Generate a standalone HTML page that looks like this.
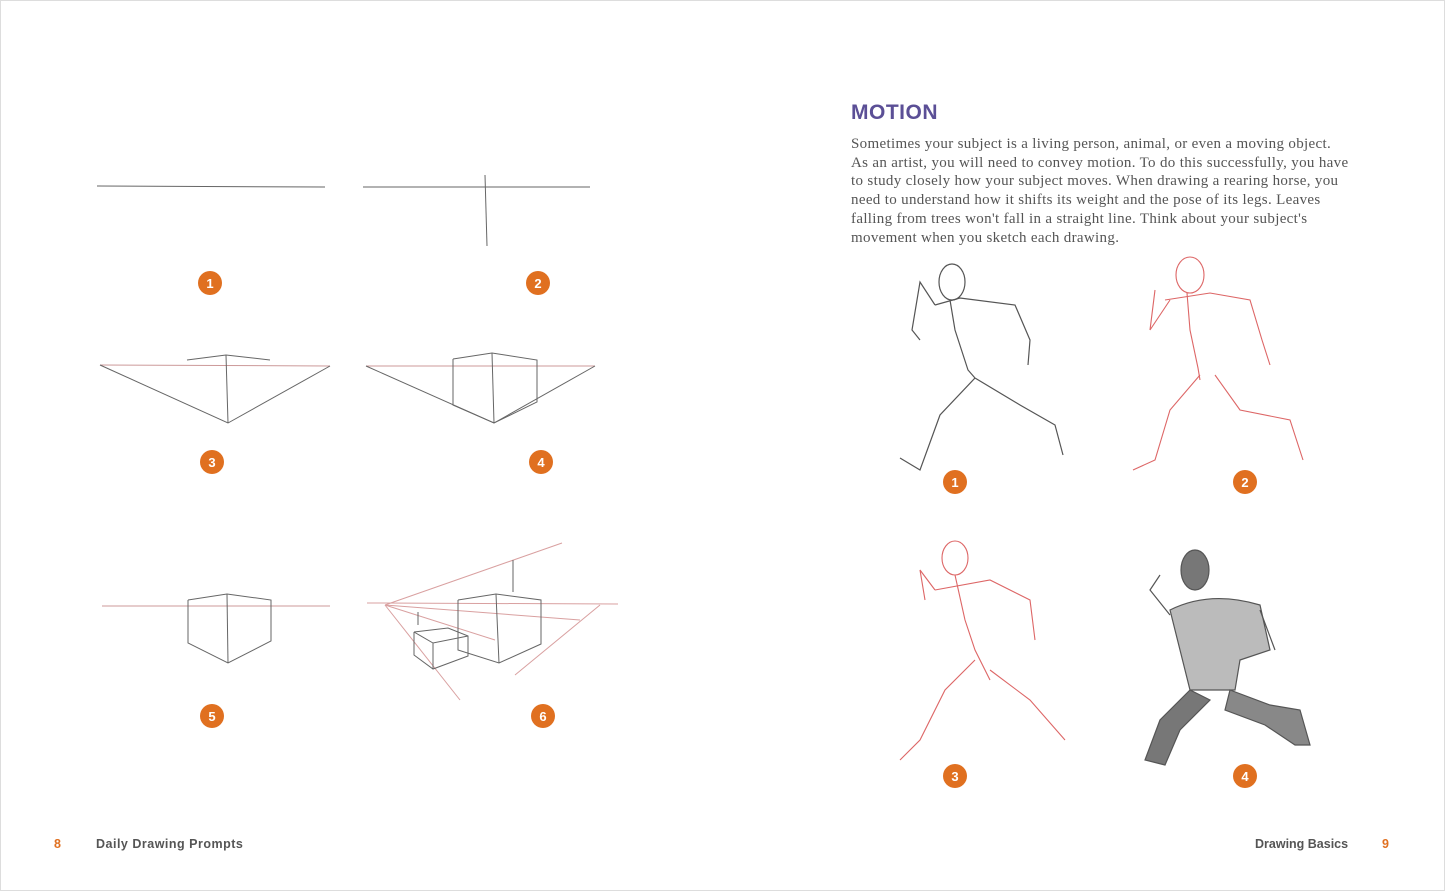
<!DOCTYPE html>
<html><head><meta charset="utf-8"><style>
body{margin:0;width:1445px;height:891px;background:#fff;overflow:hidden;position:relative;font-family:"Liberation Sans",sans-serif}
.t{position:absolute;left:851px;top:135px;white-space:nowrap;font-family:"Liberation Serif",serif;font-size:15px;letter-spacing:0.33px;line-height:18.7px;color:#555}
h1{position:absolute;left:851px;top:101px;margin:0;font-size:21px;font-weight:bold;color:#5b4f96;letter-spacing:0.5px}
.f{position:absolute;top:837px;font-size:12.5px;font-weight:bold;color:#555;letter-spacing:0.5px}
.n{color:#e07020}
svg{position:absolute;left:0;top:0}
</style></head><body>
<svg width="1445" height="891" viewBox="0 0 1445 891">
<rect x="0.5" y="0.5" width="1444" height="890" fill="none" stroke="#ddd"/>
<g fill="none" stroke="#666" stroke-width="1">
<line x1="97" y1="186" x2="325" y2="187"/>
<line x1="363" y1="187" x2="590" y2="187"/><line x1="485" y1="175" x2="487" y2="246"/>
<line x1="100" y1="365" x2="330" y2="366" stroke="#c99"/>
<polyline points="100,365 228,423 330,366"/><line x1="226" y1="355" x2="228" y2="423"/>
<polyline points="187,360 226,355 270,360"/>
<line x1="366" y1="366" x2="595" y2="366" stroke="#c99"/>
<polyline points="366,366 494,423 595,366"/><polyline points="453,359 453,405 494,423 537,402 537,360 492,353 453,359"/><line x1="492" y1="353" x2="494" y2="423"/>
<line x1="102" y1="606" x2="330" y2="606" stroke="#c99"/>
<polyline points="188,600 188,643 228,663 271,641 271,600 227,594 188,600"/><line x1="227" y1="594" x2="228" y2="663"/>
<g stroke="#d9a0a0"><line x1="367" y1="603" x2="618" y2="604"/><line x1="385" y1="605" x2="562" y2="543"/><line x1="385" y1="605" x2="460" y2="700"/><line x1="600" y1="605" x2="515" y2="675"/><line x1="385" y1="605" x2="580" y2="620"/><line x1="385" y1="605" x2="495" y2="640"/></g>
<polyline points="513,560 513,592 M513,560 562,543 600,605 562,630 562,543"/>
<polyline points="458,600 458,650 499,663 541,644 541,600 496,594 458,600"/><line x1="496" y1="594" x2="499" y2="663"/>
<polyline points="414,632 414,655 433,669 468,656 468,636 448,628 414,632"/><line x1="433" y1="643" x2="433" y2="669"/><polyline points="414,632 433,643 468,636"/>
<polyline points="418,612 418,625 M418,612 442,610 453,615"/>
</g>
<g fill="none" stroke="#555" stroke-width="1.2">
<ellipse cx="952" cy="282" rx="13" ry="18"/>
<polyline points="950,300 955,330 968,370 975,378"/><polyline points="935,305 960,298 1015,305 1030,340 1028,365"/><polyline points="935,305 920,282 912,330 920,340"/>
<polyline points="975,378 940,415 920,470 900,458"/><polyline points="975,378 1020,405 1055,425 1063,455"/>
</g>
<g fill="none" stroke="#d66" stroke-width="1.1">
<ellipse cx="1190" cy="275" rx="14" ry="18"/>
<polyline points="1187,293 1190,330 1198,368 1200,380"/><polyline points="1165,300 1210,293 1250,300 1262,340 1270,365"/><polyline points="1170,300 1150,330 1155,290"/>
<polyline points="1200,375 1170,410 1155,460 1133,470"/><polyline points="1215,375 1240,410 1290,420 1303,460"/>
<ellipse cx="955" cy="558" rx="13" ry="17"/>
<polyline points="955,575 965,620 975,650 990,680"/><polyline points="935,590 990,580 1030,600 1035,640"/><polyline points="935,590 920,570 925,600"/>
<polyline points="975,660 945,690 920,740 900,760"/><polyline points="990,670 1030,700 1065,740"/>
</g>
<g fill="none" stroke="#555" stroke-width="1.2">
<ellipse cx="1195" cy="570" rx="14" ry="20" fill="#777"/>
<path d="M1170 610 Q1210 590 1260 605 L1270 650 L1240 660 L1235 690 L1190 690 L1180 650Z" fill="#bbb"/>
<path d="M1190 690 L1160 720 L1145 760 L1165 765 L1180 730 L1210 700Z" fill="#777"/>
<path d="M1230 690 L1270 705 L1300 710 L1310 745 L1295 745 L1265 725 L1225 710Z" fill="#888"/>
<path d="M1170 615 L1150 590 L1160 575 M1260 610 L1275 650"/>
</g>
<g fill="#e07020"><circle cx="210" cy="283" r="12"/><circle cx="538" cy="283" r="12"/><circle cx="212" cy="462" r="12"/><circle cx="541" cy="462" r="12"/><circle cx="212" cy="716" r="12"/><circle cx="543" cy="716" r="12"/><circle cx="955" cy="482" r="12"/><circle cx="1245" cy="482" r="12"/><circle cx="955" cy="776" r="12"/><circle cx="1245" cy="776" r="12"/></g>
<g fill="#fff" font-family="Liberation Sans" font-weight="bold" font-size="13" text-anchor="middle"><text x="210" y="288">1</text><text x="538" y="288">2</text><text x="212" y="467">3</text><text x="541" y="467">4</text><text x="212" y="721">5</text><text x="543" y="721">6</text><text x="955" y="487">1</text><text x="1245" y="487">2</text><text x="955" y="781">3</text><text x="1245" y="781">4</text></g>
</svg>
<h1>MOTION</h1>
<div class="t">Sometimes your subject is a living person, animal, or even a moving object.<br>As an artist, you will need to convey motion. To do this successfully, you have<br>to study closely how your subject moves. When drawing a rearing horse, you<br>need to understand how it shifts its weight and the pose of its legs. Leaves<br>falling from trees won't fall in a straight line. Think about your subject's<br>movement when you sketch each drawing.</div>
<div class="f n" style="left:54px">8</div>
<div class="f" style="left:96px">Daily Drawing Prompts</div>
<div class="f" style="left:1255px;letter-spacing:0">Drawing Basics</div>
<div class="f n" style="left:1382px">9</div>
</body></html>
